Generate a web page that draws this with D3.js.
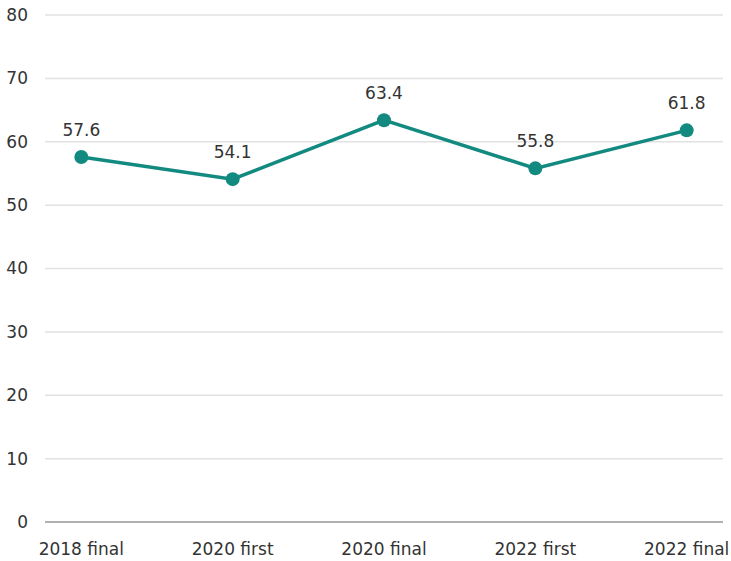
<!DOCTYPE html>
<html><head><meta charset="utf-8">
<script src="https://cdn.jsdelivr.net/npm/d3@7"></script>
<style>body{margin:0;background:#fff}svg{display:block}text{font-family:"DejaVu Sans",sans-serif;fill:#333}</style>
</head><body>
<svg id="c" width="731" height="561"></svg>
<script>
const categories = ["2018 final","2020 first","2020 final","2022 first","2022 final"];
const values = [57.6, 54.1, 63.4, 55.8, 61.8];
const yTicks = [0,10,20,30,40,50,60,70,80];

const svg = d3.select("#c");
const x = d3.scalePoint().domain(categories).range([45,723]).padding(0.24);
const y = d3.scaleLinear().domain([0,80]).range([522,15]);
const color = "#138a80";

svg.append("g").selectAll("line").data(yTicks.filter(d=>d>0)).join("line")
  .attr("x1",45).attr("x2",723).attr("y1",d=>y(d)).attr("y2",d=>y(d))
  .attr("stroke","#e2e2e2").attr("stroke-width",1.5);
svg.append("line").attr("x1",45).attr("x2",723).attr("y1",y(0)).attr("y2",y(0))
  .attr("stroke","#b0b0b0").attr("stroke-width",2);

svg.append("g").selectAll("text").data(yTicks).join("text")
  .attr("x",28).attr("y",d=>y(d)).attr("dy","0.35em").attr("text-anchor","end")
  .attr("font-size",17).text(d=>d);

svg.append("g").selectAll("text").data(categories).join("text")
  .attr("x",d=>x(d)).attr("y",555).attr("text-anchor","middle")
  .attr("font-size",17).text(d=>d);

const data = categories.map((c,i)=>({c, v:values[i]}));
svg.append("path").datum(data)
  .attr("d", d3.line().x(d=>x(d.c)).y(d=>y(d.v)))
  .attr("fill","none").attr("stroke",color).attr("stroke-width",3.5);
svg.append("g").selectAll("circle").data(data).join("circle")
  .attr("cx",d=>x(d.c)).attr("cy",d=>y(d.v)).attr("r",7).attr("fill",color);
svg.append("g").selectAll("text").data(data).join("text")
  .attr("x",d=>x(d.c)).attr("y",d=>y(d.v)-21).attr("text-anchor","middle")
  .attr("font-size",17).text(d=>d.v.toFixed(1));
</script>
</body></html>
